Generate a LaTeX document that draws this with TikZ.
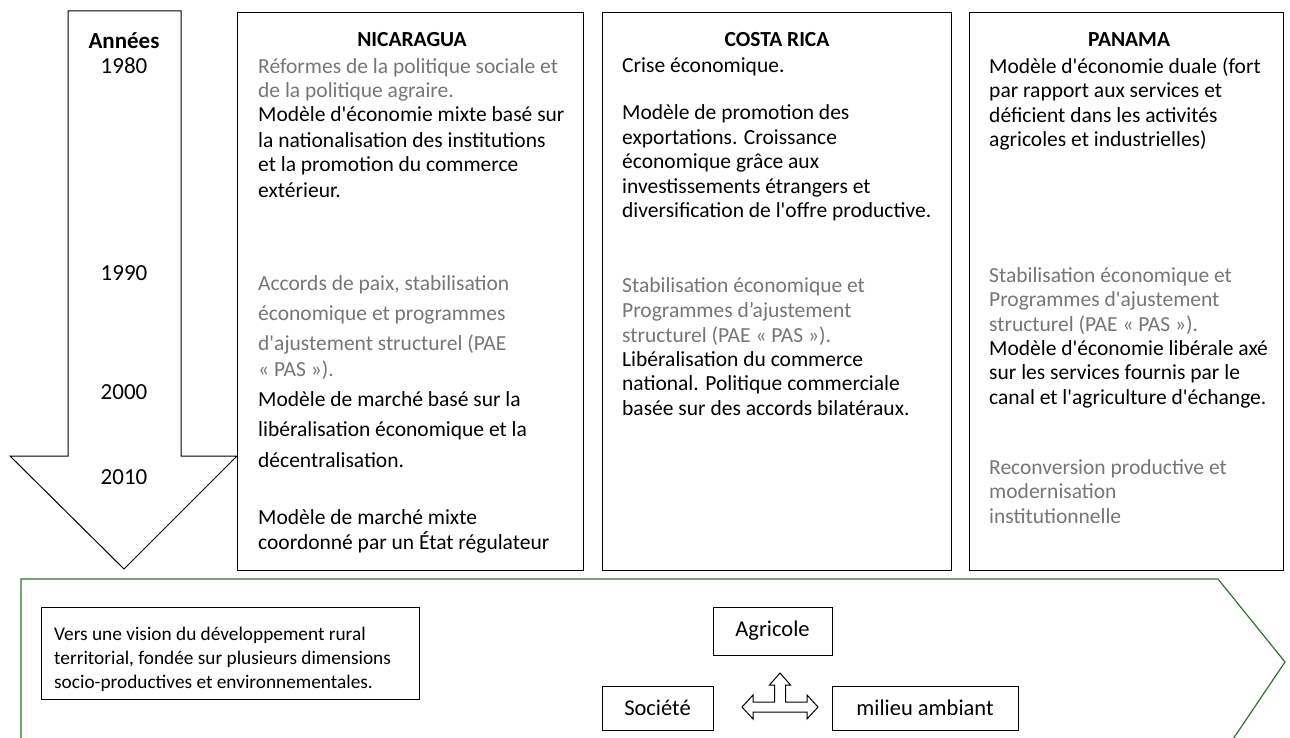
\documentclass[tikz,border=0pt]{standalone}
\usepackage{fontspec}
\setmainfont{Carlito}[Ligatures=TeXOff]
\definecolor{grayT}{RGB}{118,118,118}
\definecolor{greenB}{RGB}{56,110,52}
\newcommand{\fs}[1]{\fontsize{21.5}{#1}\selectfont}
\begin{document}
\begin{tikzpicture}[x=1pt,y=-1pt,
  txt/.style={anchor=base west, inner sep=0pt, align=left, font=\fs{25}},
  gtxt/.style={txt, text=grayT},
  ttl/.style={anchor=base, inner sep=0pt, font=\fontsize{21.5}{24}\selectfont\bfseries},
  yr/.style={anchor=base, inner sep=0pt, font=\fontsize{23}{24}\selectfont},
  colbox/.style={draw=black, line width=1.3pt, anchor=north west, inner sep=0pt},
  smallbox/.style={draw=black, line width=1pt, inner sep=0pt, font=\fontsize{22.5}{24}\selectfont},
  arrowline/.style={draw=black, line width=1pt, line join=miter},
]
\useasboundingbox (0,0) rectangle (1290,738);
\fill[white] (0,0) rectangle (1290,738);

% timeline arrow
\draw[arrowline] (68,11) -- (181,11) -- (181,456) -- (237,456) -- (124,569) -- (10,456) -- (68,456) -- cycle;
\node[yr, font=\fontsize{23}{24}\selectfont\bfseries] (ann) at (124,49) {Années};
\node[yr] (y80) at (124,74) {1980};
\node[yr] (y90) at (124,280) {1990};
\node[yr] (y00) at (124,399) {2000};
\node[yr] (y10) at (124,484) {2010};

% column boxes
\node[colbox, minimum width=346pt, minimum height=558pt] (nic) at (237,12) {};
\node[colbox, minimum width=349pt, minimum height=558pt] (cr) at (602,12) {};
\node[colbox, minimum width=314pt, minimum height=558pt] (pan) at (969,12) {};

% Nicaragua
\node[ttl] (nict) at (412,47) {NICARAGUA};
\node[gtxt, font=\fs{24}] (n1) at (258,98) {Réformes de la politique sociale et\\de la politique agraire.};
\node[txt] (n2) at (258,197) {Modèle d'économie mixte basé sur\\la nationalisation des institutions\\et la promotion du commerce\\extérieur.};
\node[gtxt, font=\fs{30}] (n3) at (258,376) {Accords de paix, stabilisation\\économique et programmes\\d'ajustement structurel (PAE\\[-4pt]« PAS »).};
\node[txt, font=\fs{30.5}] (n4) at (258,467) {Modèle de marché basé sur la\\libéralisation économique et la\\décentralisation.};
\node[txt] (n5) at (258,549) {Modèle de marché mixte\\coordonné par un État régulateur};

% Costa Rica
\node[ttl] (crt) at (777,47) {COSTA RICA};
\node[txt] (c1) at (622,73) {Crise économique.};
\node[txt, font=\fs{24.5}] (c2) at (622,218) {Modèle de promotion des\\exportations. Croissance\\économique grâce aux\\investissements étrangers et\\diversification de l'offre productive.};
\node[gtxt] (c3) at (622,342) {Stabilisation économique et\\Programmes d’ajustement\\structurel (PAE « PAS »).};
\node[txt, font=\fs{24.5}] (c4) at (622,415) {Libéralisation du commerce\\national. Politique commerciale\\basée sur des accords bilatéraux.};

% Panama
\node[ttl] (pant) at (1129,47) {PANAMA};
\node[txt, font=\fs{24.5}] (p1) at (989,147) {Modèle d'économie duale (fort\\par rapport aux services et\\déficient dans les activités\\agricoles et industrielles)};
\node[gtxt, font=\fs{24.5}] (p2) at (989,331) {Stabilisation économique et\\Programmes d'ajustement\\structurel (PAE « PAS »).};
\node[txt, font=\fs{24.5}] (p3) at (989,404) {Modèle d'économie libérale axé\\sur les services fournis par le\\canal et l'agriculture d'échange.};
\node[gtxt, font=\fs{24.5}] (p4) at (989,523) {Reconversion productive et\\modernisation\\institutionnelle};

% green pentagon
\draw[greenB, line width=1.2pt] (21,745) -- (21,579) -- (1218,579) -- (1285,662) -- (1229,745);

% vision box
\node[draw=black, line width=1pt, anchor=north west, minimum width=378pt, minimum height=92pt, inner sep=0pt] (vis) at (41,607) {};
\node[txt, font=\fontsize{19.3}{24}\selectfont] (vist) at (54,688) {Vers une vision du développement rural\\territorial, fondée sur plusieurs dimensions\\socio-productives et environnementales.};

% small boxes
\node[smallbox, minimum width=119pt, minimum height=48pt] (agr) at (772.5,631) {Agricole};
\node[smallbox, minimum width=111pt, minimum height=44pt] (soc) at (657.5,708) {Société};
\node[smallbox, minimum width=186pt, minimum height=44pt] (mil) at (925,708) {milieu ambiant};

% three-way arrow
\draw[arrowline] (742,707) -- (753,695) -- (753,702) -- (774.5,702) -- (774.5,685) -- (769.5,685) -- (780,673) -- (790.5,685) -- (785.5,685) -- (785.5,702) -- (807,702) -- (807,695) -- (818,707) -- (807,719) -- (807,712) -- (753,712) -- (753,719) -- cycle;
\end{tikzpicture}
\end{document}
